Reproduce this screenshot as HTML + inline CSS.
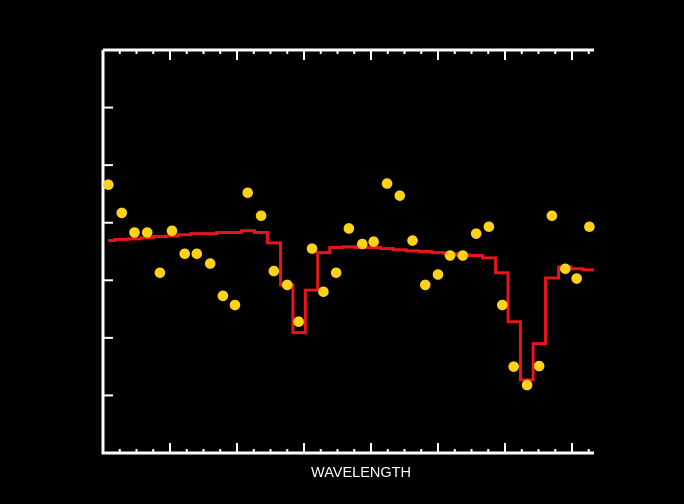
<!DOCTYPE html>
<html><head><meta charset="utf-8"><style>
html,body{margin:0;padding:0;background:#000;width:684px;height:504px;overflow:hidden}
</style></head><body>
<svg id="chart" width="684" height="504" xmlns="http://www.w3.org/2000/svg" style="display:block;background:#000">
<rect x="0" y="0" width="684" height="504" fill="#000"/>
<g id="axes"></g>
<g id="model"></g>
<g id="points"></g>
<text x="361" y="477" fill="#fff" font-family="Liberation Sans, sans-serif" font-size="14.5" text-anchor="middle">WAVELENGTH</text>
</svg>
<script>
// wavelength positions (axis units), observed flux, model flux
const wavelengths = [0.08,0.28,0.47,0.66,0.85,1.03,1.22,1.40,1.60,1.79,1.97,2.16,2.36,2.55,2.75,2.92,3.12,3.29,3.48,3.67,3.87,4.04,4.24,4.43,4.62,4.81,5.00,5.18,5.37,5.57,5.76,5.96,6.13,6.33,6.51,6.70,6.90,7.07,7.26];
const observed = [4.66,4.17,3.83,3.83,3.13,3.86,3.46,3.46,3.29,2.73,2.57,4.52,4.12,3.16,2.92,2.28,3.55,2.80,3.13,3.90,3.63,3.67,4.68,4.47,3.69,2.92,3.10,3.43,3.43,3.81,3.93,2.57,1.50,1.18,1.51,4.12,3.20,3.03,3.93];
const model = [3.69,3.71,3.72,3.74,3.76,3.77,3.79,3.81,3.81,3.83,3.83,3.86,3.83,3.65,2.92,2.09,2.83,3.48,3.57,3.58,3.57,3.57,3.55,3.53,3.51,3.50,3.48,3.46,3.44,3.43,3.39,3.13,2.28,1.27,1.90,3.04,3.23,3.20,3.18];
const xTicksMajor = [0,1,2,3,4,5,6,7];
const yTicksMajor = [0,1,2,3,4,5,6,7];
const X0=103,X1=594,Y0=453,Y1=50,XMAX=(594-103)/67,YMAX=7;
const sx=v=>X0+v/XMAX*(X1-X0), sy=v=>Y0-v/YMAX*(Y0-Y1);
const NS='http://www.w3.org/2000/svg';
const mk=(t,a,p)=>{const e=document.createElementNS(NS,t);for(const k in a)e.setAttribute(k,a[k]);p.appendChild(e);return e;};
const axes=document.getElementById('axes');
const frame=mk('path',{d:`M${X0},${Y1} L${X0},${Y0} L${X1},${Y0} M${X0},${Y1} L${X1},${Y1}`,stroke:'#fff','stroke-width':3,fill:'none'},axes);


for(let v=0.25;v<XMAX;v+=0.25){
  const major=Math.abs(v-Math.round(v))<1e-6, L=major?10:4, x=sx(v);
  const t1=mk('line',{x1:x,x2:x,y1:Y0,y2:Y0-L,stroke:'#fff','stroke-width':2},axes);
  
  
  const t2=mk('line',{x1:x,x2:x,y1:Y1,y2:Y1+L,stroke:'#fff','stroke-width':2},axes);
  
  
}
yTicksMajor.forEach(v=>{if(v===0||v===YMAX)return;const y=sy(v);
  const t=mk('line',{x1:X0,x2:X0+10,y1:y,y2:y,stroke:'#fff','stroke-width':2},axes);
  
  
});
// model step line
let d='';
for(let i=0;i<wavelengths.length;i++){
  const a=i===0?wavelengths[0]:(wavelengths[i-1]+wavelengths[i])/2;
  const b=i===wavelengths.length-1?XMAX:(wavelengths[i]+wavelengths[i+1])/2;
  d+=(i===0?'M':'L')+sx(a)+','+sy(model[i])+' L'+sx(b)+','+sy(model[i])+' ';
}
const ml=mk('path',{d:d,stroke:'#e8141c','stroke-width':3,fill:'none','stroke-linejoin':'miter'},document.getElementById('model'));


const pg=document.getElementById('points');
wavelengths.forEach((w,i)=>{
  const c=mk('circle',{cx:sx(w),cy:sy(observed[i]),r:5.3,fill:'#ffd21a'},pg);
  
  
});
</script>
</body></html>
